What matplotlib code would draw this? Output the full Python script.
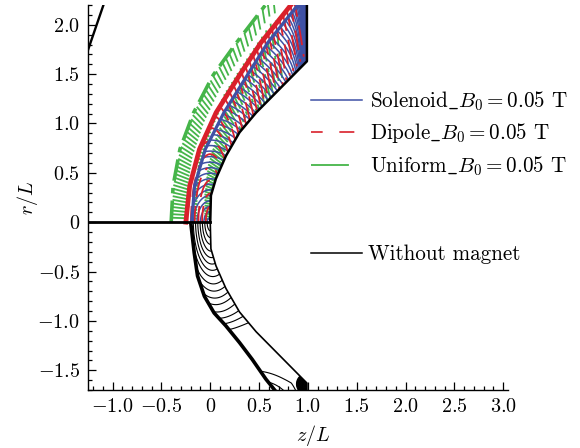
import numpy as np
import matplotlib
matplotlib.use("Agg")
import matplotlib.pyplot as plt
from matplotlib.lines import Line2D
from matplotlib.ticker import MultipleLocator, FuncFormatter

plt.rcParams.update({
    "font.family": ["cmr10", "DejaVu Serif"],
    "mathtext.fontset": "cm",
    "axes.unicode_minus": False,
    "font.size": 14.5,
})

# Body generatrix (z/L, r/L): blunt nose, conical flank, outflow face
body_z = [0.0, 0.007, 0.058, 0.16, 0.30, 0.47, 0.71, 0.98, 0.99, 0.99]
body_r = [0.0, 0.27, 0.44, 0.67, 0.91, 1.11, 1.35, 1.62, 1.63, 2.30]

# Bow-shock position z/L at the given |r|/L
shock_r = [0.0, 0.37, 0.74, 1.11, 1.49, 1.82, 2.18, 2.30]
shock_solenoid = [-0.19, -0.16, -0.05, 0.14, 0.38, 0.59, 0.88, 0.97]
shock_dipole = [-0.25, -0.21, -0.11, 0.06, 0.30, 0.52, 0.81, 0.90]
shock_uniform = [-0.40, -0.38, -0.31, -0.17, 0.03, 0.27, 0.55, 0.64]
shock_none_r = [0.0, 0.31, 0.545, 0.75, 0.92, 1.05, 1.22, 1.39, 1.59, 1.75]
shock_none = [-0.20, -0.164, -0.13, -0.06, 0.04, 0.16, 0.30, 0.43, 0.57, 0.70]

# Outer boundary of the computational domain (upper-left corner)
outer_z = [-1.26, -1.09]
outer_r = [1.72, 2.21]

# Contour levels of the field in each case
levels_solenoid = np.arange(0.03, 2.35, 0.035)
levels_dipole = np.arange(0.045, 1.10, 0.038)
levels_uniform = np.arange(2.0, 84.0, 1.6)          # ray angles, degrees
# no-magnet case: stagnation arcs (as distances), downstream levels,
# and the tight rings of the shoulder expansion
arcs_none = [0.02, 0.045, 0.07, 0.095, 0.12, 0.145, 0.17, 0.195, 0.225,
             0.255, 0.285, 0.315, 0.35, 0.385, 0.42, 0.46]
downstream_none = [0.02, 0.032, 0.045]
shoulder_none = np.arange(0.004, 0.11, 0.006)

blue = "#3f51a5"
red = "#d9202b"
green = "#45b549"

fig = plt.figure(figsize=(5.8, 4.48), dpi=100)
ax = fig.add_axes([0.152, 0.1295, 0.724, 0.8593])

# Structured grid of the shock layer
zz = np.linspace(-0.5, 1.0, 750)
rr = np.linspace(0.0, 2.3, 1100)
Z, R = np.meshgrid(zz, rr)
body_at_r = np.interp(R, body_r, body_z)
corner_dist = np.hypot(Z - 0.99, R - 1.64)


def layer(field, shock_z, shock_rr):
    sz = np.interp(R, shock_rr, shock_z)
    outside = (Z < sz) | (Z > body_at_r) | (Z > 0.99)
    return np.ma.array(field, mask=outside)


def across(shock_z, shock_rr):
    sz = np.interp(R, shock_rr, shock_z)
    return np.clip((Z - sz) / np.maximum(body_at_r - sz, 1e-3), 0, 1)


# Lower half: no magnet
lam = 0.25
f_none = (np.exp(-np.hypot(Z, R / 2.6) / lam)
          + 0.05 * across(shock_none, shock_none_r))
lv_none = sorted(list(np.exp(-np.array(arcs_none) / lam)) + downstream_none)
ax.contour(Z, -R, layer(f_none, shock_none, shock_none_r), levels=lv_none,
           colors="black", linewidths=0.8)
ax.contour(Z, -R, layer(corner_dist, shock_none, shock_none_r),
           levels=shoulder_none, colors="black", linewidths=0.9)
ax.plot(shock_none, -np.array(shock_none_r), color="black", lw=2.6,
        solid_capstyle="butt")
ax.plot(body_z, -np.array(body_r), color="black", lw=1.2)

# Upper half: three magnet configurations
f_uni = np.degrees(np.arctan2(R, 0.9 - Z))
cs = ax.contour(Z, R, layer(f_uni, shock_uniform, shock_r),
                levels=levels_uniform, colors=green, linewidths=1.3)
cs.set_linestyle((0, (8, 4, 2, 4)))
ax.plot(shock_uniform, shock_r, color=green, lw=2.6, ls=(0, (6, 2, 1.5, 2)))

f_sol = np.hypot(Z, R / 1.6) + 0.6 * np.exp(-(0.99 - Z) / 0.05) * (R > 1.3)
ax.contour(Z, R, layer(f_sol, shock_solenoid, shock_r),
           levels=levels_solenoid, colors=blue, linewidths=1.1)

f_dip = np.hypot(Z, R / 3.5)
cs = ax.contour(Z, R, layer(f_dip, shock_dipole, shock_r),
                levels=levels_dipole, colors=red, linewidths=1.3)
cs.set_linestyle((0, (9, 5, 11, 5, 1.5, 5)))

ax.plot(shock_dipole, shock_r, color=red, lw=3.4)
ax.plot(shock_solenoid, shock_r, color=blue, lw=2.3)

ax.plot(body_z, body_r, color="black", lw=1.8)
ax.plot([-1.25, 0.0], [0.0, 0.0], color="black", lw=2.0)
ax.plot(outer_z, outer_r, color="black", lw=1.7)

ax.set_xlim(-1.25, 3.05)
ax.set_ylim(-1.70, 2.20)
for side in ("top", "right"):
    ax.spines[side].set_visible(False)
for side in ("left", "bottom"):
    ax.spines[side].set_linewidth(1.0)

fmt = FuncFormatter(lambda v, p: "$0$" if abs(v) < 1e-9 else f"${v:.1f}$")
for axis in (ax.xaxis, ax.yaxis):
    axis.set_major_locator(MultipleLocator(0.5))
    axis.set_minor_locator(MultipleLocator(0.1))
    axis.set_major_formatter(fmt)
ax.tick_params(which="both", direction="in", top=False, right=False, width=0.9)
ax.tick_params(which="major", length=5.5, pad=6)
ax.tick_params(which="minor", length=3)

ax.set_xlabel("$z/L$")
ax.set_ylabel("$r/L$")
ax.xaxis.set_label_coords(0.535, -0.085)
ax.yaxis.set_label_coords(-0.115, 0.5)

handles = [
    Line2D([], [], color=blue, lw=1.1),
    Line2D([], [], color=red, lw=1.2, ls=(0, (7, 10, 9, 9, 1.5, 10))),
    Line2D([], [], color=green, lw=1.3, ls=(0, (21, 9, 4, 9))),
]
labels = [r"Solenoid$\mathtt{\_}B_0=0.05$ T", r"Dipole$\mathtt{\_}B_0=0.05$ T",
          r"Uniform$\mathtt{\_}B_0=0.05$ T"]
leg = ax.legend(handles, labels, loc="upper left",
                bbox_to_anchor=(0.53, 0.782), frameon=False, fontsize=15.2,
                handlelength=2.45, handletextpad=0.35, labelspacing=0.42,
                borderpad=0, borderaxespad=0)
ax.add_artist(leg)
ax.legend([Line2D([], [], color="black", lw=1.1)], ["Without magnet"],
          loc="upper left", bbox_to_anchor=(0.53, 0.378), frameon=False,
          fontsize=15.2, handlelength=2.45, handletextpad=0.25, borderpad=0,
          borderaxespad=0)

fig.savefig("out.png", dpi=100)
